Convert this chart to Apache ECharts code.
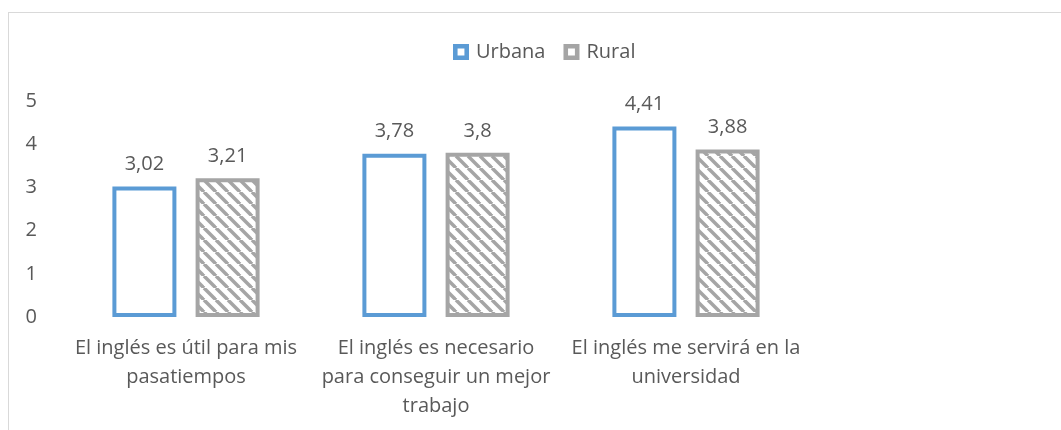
<!DOCTYPE html>
<html>
<head>
<meta charset="utf-8">
<script src="https://cdn.jsdelivr.net/npm/echarts@6/dist/echarts.min.js"></script>
<style>
    html, body {
        margin: 0;
        padding: 0;
        background: #fff;
        overflow: hidden;
    }
    .frame {
        position: absolute;
        left: 8px;
        top: 12px;
        width: 1100px;
        height: 500px;
        border: 1px solid #d9d9d9;
        box-sizing: border-box;
    }
    #chart {
        position: absolute;
        left: 0;
        top: 0;
        width: 1061px;
        height: 430px;
    }
</style>
</head>
<body>
<div class="frame"></div>
<div id="chart"></div>
<script>
const categories = [
    'El inglés es útil para mis\npasatiempos',
    'El inglés es necesario\npara conseguir un mejor\ntrabajo',
    'El inglés me servirá en la\nuniversidad',
];
const seriesNames = ['Urbana', 'Rural'];
const urbanaValues = [3.02, 3.78, 4.41];
const ruralValues = [3.21, 3.8, 3.88];
const yTicks = [0, 1, 2, 3, 4, 5];

const FONT = '"Open Sans", "Noto Sans", sans-serif';
const FONT_SIZE = 20;
const TEXT_COLOR = '#595959';
const BLUE = '#5b9bd5';
const GRAY = '#a5a5a5';
// square ring used as legend icon (thick border like the bars)
const RING_ICON = 'path://M0,0H14V14H0Z M4,4V10H10V4Z';

// diagonal hatch tile for the Rural bars
function makeHatch() {
    const s = 12;
    const c = document.createElement('canvas');
    c.width = s;
    c.height = s;
    const ctx = c.getContext('2d');
    ctx.fillStyle = '#fff';
    ctx.fillRect(0, 0, s, s);
    ctx.strokeStyle = GRAY;
    ctx.lineWidth = 3.5;
    [-s, 0, s].forEach((x) => {
        ctx.beginPath();
        ctx.moveTo(x, 0);
        ctx.lineTo(x + s, s);
        ctx.stroke();
    });
    return c;
}

const fmt = (v) => String(v).replace('.', ',');

const myChart = echarts.init(document.getElementById('chart'));
const hatch = { image: makeHatch(), repeat: 'repeat' };

const labelStyle = {
    show: true,
    position: 'top',
    distance: 12,
    fontFamily: FONT,
    fontSize: FONT_SIZE,
    color: TEXT_COLOR,
    formatter: (p) => fmt(p.value),
};

myChart.setOption({
    animation: false,
    textStyle: { fontFamily: FONT },
    legend: {
        left: 453,
        top: 42,
        padding: 0,
        itemWidth: 16,
        itemHeight: 16,
        itemGap: 18,
        textStyle: {
            fontFamily: FONT,
            fontSize: FONT_SIZE,
            color: TEXT_COLOR,
            padding: [0, 0, 0, 2],
        },
        data: [
            { name: seriesNames[0], icon: RING_ICON, itemStyle: { color: BLUE, borderWidth: 0 } },
            { name: seriesNames[1], icon: RING_ICON, itemStyle: { color: GRAY, borderWidth: 0 } },
        ],
    },
    grid: {
        left: 61,
        right: 250,
        top: 101,
        bottom: 113,
    },
    xAxis: {
        type: 'category',
        data: categories,
        axisLine: { show: false },
        axisTick: { show: false },
        axisLabel: {
            interval: 0,
            margin: 17,
            fontFamily: FONT,
            fontSize: FONT_SIZE,
            lineHeight: 29,
            color: TEXT_COLOR,
            align: 'center',
        },
    },
    yAxis: {
        type: 'value',
        min: yTicks[0],
        max: yTicks[yTicks.length - 1],
        interval: 1,
        splitLine: { show: false },
        axisLine: { show: false },
        axisTick: { show: false },
        axisLabel: {
            margin: 24,
            fontFamily: FONT,
            fontSize: FONT_SIZE,
            color: TEXT_COLOR,
        },
    },
    series: [
        {
            name: seriesNames[0],
            type: 'bar',
            data: urbanaValues,
            barWidth: 64,
            barGap: '30%',
            itemStyle: {
                color: '#fff',
                borderColor: BLUE,
                borderWidth: 4,
            },
            label: labelStyle,
        },
        {
            name: seriesNames[1],
            type: 'bar',
            data: ruralValues,
            barWidth: 64,
            barGap: '30%',
            itemStyle: {
                color: hatch,
                borderColor: GRAY,
                borderWidth: 4,
            },
            label: labelStyle,
        },
    ],
});

window.addEventListener('resize', () => myChart.resize());
</script>
</body>
</html>
